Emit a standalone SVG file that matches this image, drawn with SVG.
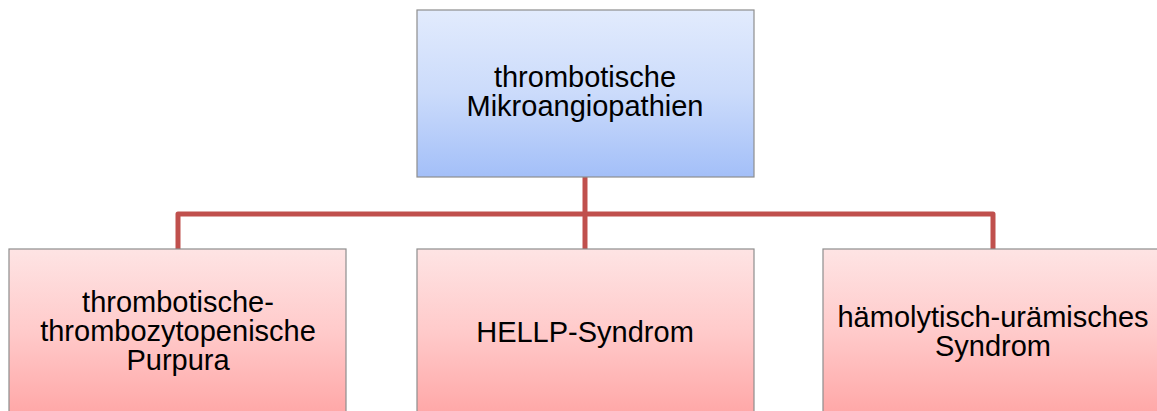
<svg xmlns="http://www.w3.org/2000/svg" width="1157" height="411" viewBox="0 0 1157 411">
<defs>
<linearGradient id="gBlue" x1="0" y1="0" x2="0" y2="1">
<stop offset="0" stop-color="#e2ebfd"/>
<stop offset="0.5" stop-color="#cbdbfb"/>
<stop offset="1" stop-color="#a3bff8"/>
</linearGradient>
<linearGradient id="gPink" x1="0" y1="0" x2="0" y2="1">
<stop offset="0" stop-color="#fee4e4"/>
<stop offset="0.5" stop-color="#ffcaca"/>
<stop offset="1" stop-color="#ffa6a6"/>
</linearGradient>
</defs>
<style>
.box{stroke:#8e8e8e;stroke-width:1.2}
.lbl{font-family:"Liberation Sans",Arial,sans-serif;font-size:29px;fill:#000;text-anchor:middle}
.conn{fill:none;stroke:#c0504d;stroke-width:5;stroke-linejoin:round}
</style>
<rect width="1157" height="411" fill="#ffffff"/>
<g id="connectors">
<path class="conn" d="M585,177 V214"/>
<path class="conn" d="M178,249 V214 H993 V249"/>
<path class="conn" d="M585,214 V249"/>
</g>
<g id="node-root">
<rect class="box" x="417" y="10" width="337" height="167" fill="url(#gBlue)"/>
<text class="lbl" x="585" y="87">thrombotische</text>
<text class="lbl" x="585" y="116">Mikroangiopathien</text>
</g>
<g id="node-ttp">
<rect class="box" x="9" y="249" width="337" height="167" fill="url(#gPink)"/>
<text class="lbl" x="178" y="312">thrombotische-</text>
<text class="lbl" x="178" y="341">thrombozytopenische</text>
<text class="lbl" x="178" y="370">Purpura</text>
</g>
<g id="node-hellp">
<rect class="box" x="417" y="249" width="337" height="167" fill="url(#gPink)"/>
<text class="lbl" x="585" y="342">HELLP-Syndrom</text>
</g>
<g id="node-hus">
<rect class="box" x="823" y="249" width="337" height="167" fill="url(#gPink)"/>
<text class="lbl" x="993" y="327">hämolytisch-urämisches</text>
<text class="lbl" x="993" y="356">Syndrom</text>
</g>
</svg>
